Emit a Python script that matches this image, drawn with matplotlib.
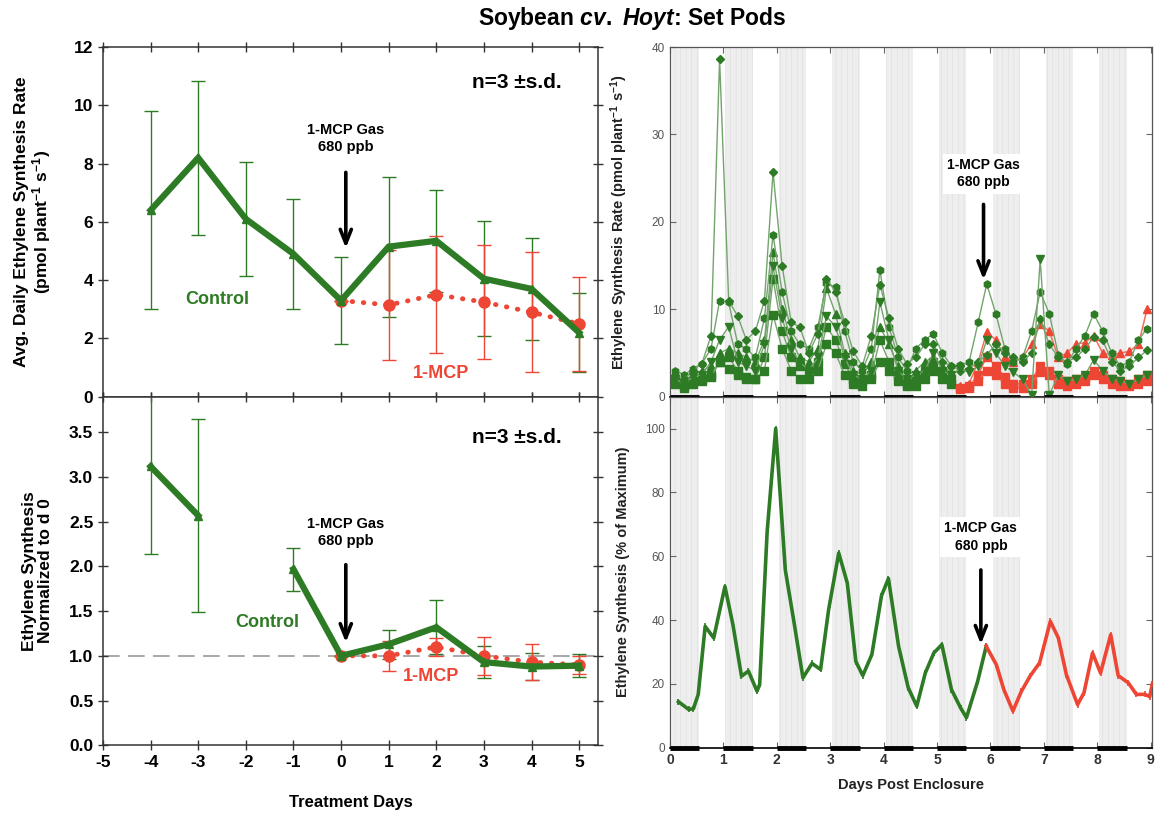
import numpy as np
import matplotlib.pyplot as plt

plt.rcParams['font.family'] = ['Liberation Sans', 'DejaVu Sans']
plt.rcParams['mathtext.fontset'] = 'custom'
plt.rcParams['mathtext.rm'] = 'Liberation Sans:bold'
plt.rcParams['mathtext.it'] = 'Liberation Sans:bold:italic'
plt.rcParams['axes.unicode_minus'] = False
plt.rcParams['hatch.linewidth'] = 0.4

GREEN = '#2e7b25'
GREEN_LINE = '#73a46c'
RED = '#ee4634'
RED_LINE = '#f2705f'

# daily averages, treatment days relative to 1-MCP application
treat_days = [-4, -3, -2, -1, 0, 1, 2, 3, 4, 5]
ctrl_rate = [6.4, 8.2, 6.1, 4.9, 3.3, 5.15, 5.35, 4.05, 3.7, 2.2]
ctrl_rate_sd = [3.4, 2.65, 1.95, 1.9, 1.5, 2.4, 1.75, 1.97, 1.75, 1.35]
mcp_days = [0, 1, 2, 3, 4, 5]
mcp_rate = [3.3, 3.15, 3.5, 3.25, 2.9, 2.5]
mcp_rate_sd = [0.0, 1.9, 2.0, 1.97, 2.05, 1.6]

ctrl_norm = [3.12, 2.57, np.nan, 1.97, 1.0, 1.13, 1.32, 0.93, 0.88, 0.89]
ctrl_norm_sd = [0.98, 1.08, 0.0, 0.24, 0.0, 0.16, 0.30, 0.18, 0.15, 0.13]
mcp_norm = [1.0, 1.0, 1.1, 1.0, 0.93, 0.9]
mcp_norm_sd = [0.0, 0.17, 0.1, 0.21, 0.2, 0.1]

# continuous measurements, sampled every 4 h (days post enclosure)
sample_days = [0.10, 0.27, 0.43, 0.60, 0.77, 0.93, 1.10, 1.27, 1.43, 1.60,
               1.77, 1.93, 2.10, 2.27, 2.43, 2.60, 2.77, 2.93, 3.10, 3.27,
               3.43, 3.60, 3.77, 3.93, 4.10, 4.27, 4.43, 4.60, 4.77, 4.93,
               5.10, 5.27, 5.43, 5.60, 5.77, 5.93, 6.10, 6.27, 6.43, 6.60,
               6.77, 6.93, 7.10, 7.27, 7.43, 7.60, 7.77, 7.93, 8.10, 8.27,
               8.43, 8.60, 8.77, 8.93]
plant1 = [3.0, 2.5, 3.2, 3.8, 5.5, 11.0, 10.8, 6.0, 5.5, 4.5,
          9.0, 18.5, 12.0, 7.5, 6.0, 5.5, 8.0, 13.0, 12.5, 7.5,
          4.0, 3.0, 5.5, 14.5, 8.0, 4.5, 3.0, 5.5, 6.5, 7.2,
          5.0, 3.5, 3.6, 4.0, 8.5, 12.9, 9.5, 5.5, 4.0, 4.5,
          7.5, 12.0, 9.5, 4.8, 3.8, 5.5, 7.0, 9.5, 7.5, 5.0,
          3.5, 4.0, 6.5, 7.8]
plant2 = [2.5, 2.0, 3.0, 3.8, 7.0, 38.6, 11.0, 9.2, 6.5, 7.5,
          11.0, 25.7, 15.0, 8.5, 8.0, 5.0, 7.2, 13.5, 12.0, 8.5,
          5.2, 3.5, 7.0, 12.8, 9.0, 5.5, 3.8, 4.5, 6.0, 6.0,
          4.0, 3.5, 3.0, 3.2, 4.0, 4.8, 6.0, 5.0, 4.5, 4.0,
          5.0, 8.9, 6.0, 4.5, 4.0, 4.5, 5.5, 6.8, 6.5, 4.0,
          3.0, 3.5, 4.5, 5.3]
plant3 = [2.0, 1.5, 2.3, 2.5, 4.0, 6.5, 8.0, 4.0, 3.5, 3.0,
          6.0, 14.9, 9.0, 5.5, 4.0, 3.0, 4.5, 9.2, 8.0, 4.5,
          2.5, 2.0, 3.0, 10.8, 6.5, 3.0, 2.0, 2.5, 3.0, 5.0,
          3.0, 2.5, 3.2, 2.8, 3.5, 6.5, 5.0, 3.5, 2.8, 2.0,
          0.2, 15.7, 0.2, 2.5, 1.8, 2.0, 2.5, 4.2, 3.0, 2.0,
          1.8, 1.5, 2.0, 2.5]
plant4 = [2.2, 1.8, 2.5, 3.0, 3.5, 5.0, 5.5, 5.0, 4.5, 4.0,
          6.5, 16.5, 10.0, 6.5, 4.5, 4.0, 5.5, 12.4, 9.5, 5.0,
          3.0, 2.5, 4.0, 8.0, 6.0, 3.5, 2.5, 3.0, 4.0, 4.5,
          3.5, 2.8, 1.2, 1.5, 4.0, 7.4, 6.5, 4.5, 4.0, 4.5,
          6.0, 8.3, 7.5, 4.5, 5.0, 6.0, 6.2, 7.0, 5.0, 4.8,
          5.0, 5.2, 6.0, 10.0]
plant5 = [1.5, 1.2, 1.8, 2.0, 2.5, 4.0, 4.5, 3.0, 2.2, 2.0,
          4.5, 13.5, 7.5, 4.5, 3.5, 3.0, 4.0, 8.0, 6.5, 3.8,
          2.0, 1.8, 2.5, 6.5, 4.0, 2.5, 1.5, 2.0, 3.0, 4.0,
          2.8, 2.0, 1.0, 1.2, 2.5, 4.6, 3.5, 2.2, 1.5, 1.5,
          2.0, 3.5, 3.0, 2.0, 1.8, 2.0, 2.2, 3.0, 2.5, 2.0,
          1.8, 1.5, 2.0, 2.5]
plant6 = [1.8, 1.0, 1.5, 1.8, 2.2, 4.0, 3.2, 2.5, 2.0, 2.0,
          3.0, 9.4, 5.5, 3.0, 2.0, 2.0, 3.0, 6.0, 5.0, 2.5,
          1.5, 1.2, 2.0, 4.0, 3.0, 1.8, 1.2, 1.2, 2.0, 3.0,
          2.0, 1.5, 0.9, 1.0, 1.8, 3.0, 2.5, 1.5, 1.0, 1.0,
          1.5, 2.8, 2.5, 1.5, 1.2, 1.5, 1.8, 2.5, 2.0, 1.5,
          1.2, 1.2, 1.5, 1.8]
first_treated = 32  # index of first sample after 1-MCP application

# mean response as % of maximum
pct_days_ctrl = [0.16, 0.35, 0.44, 0.53, 0.66, 0.82, 1.03, 1.18, 1.34, 1.47,
                 1.63, 1.68, 1.82, 1.98, 2.16, 2.32, 2.49, 2.66, 2.82, 2.97,
                 3.16, 3.32, 3.48, 3.61, 3.78, 3.96, 4.09, 4.28, 4.46, 4.62,
                 4.78, 4.94, 5.09, 5.27, 5.44, 5.55, 5.76, 5.92]
pct_ctrl = [14.4, 12.0, 12.2, 16.7, 38.0, 34.4, 50.5, 38.5, 22.4, 24.0,
            17.7, 19.8, 67.7, 100.0, 55.7, 39.6, 21.9, 26.4, 24.5, 43.2,
            61.0, 51.6, 27.0, 22.6, 29.2, 47.6, 53.0, 31.8, 18.8, 13.0,
            23.4, 29.7, 32.3, 18.2, 12.5, 9.4, 20.8, 31.8]
pct_days_mcp = [5.92, 6.11, 6.25, 6.42, 6.58, 6.74, 6.92, 7.12, 7.27, 7.42,
                7.63, 7.75, 7.91, 8.06, 8.25, 8.39, 8.58, 8.73, 8.89, 8.98, 9.03]
pct_mcp = [31.8, 26.0, 18.2, 11.5, 17.7, 22.4, 26.6, 39.6, 34.4, 22.9,
           13.5, 17.2, 29.7, 23.4, 35.4, 22.6, 20.3, 16.7, 16.7, 16.0, 20.0]

night_starts = [0, 1, 2, 3, 4, 5, 6, 7, 8]

fig = plt.figure(figsize=(11.57, 8.18), dpi=100)
ax1 = fig.add_axes([0.089, 0.515, 0.428, 0.4275])
ax2 = fig.add_axes([0.089, 0.089, 0.428, 0.426])
ax3 = fig.add_axes([0.579, 0.515, 0.417, 0.4275])
ax4 = fig.add_axes([0.579, 0.086, 0.417, 0.429])

fig.text(0.546, 0.977, r'Soybean $cv.\ Hoyt$: Set Pods', ha='center', va='center',
         fontsize=16.5, fontweight='bold')


def style_left(ax):
    ax.set_xlim(-5, 5.4)
    ax.set_xticks(range(-5, 6))
    for s in ax.spines.values():
        s.set_linewidth(1.1)
        s.set_color('#333333')
    ax.tick_params(axis='both', which='both', direction='inout', length=7, width=1,
                   top=True, right=True, labelsize=12.5, color='#333333')
    for lab in ax.get_xticklabels() + ax.get_yticklabels():
        lab.set_fontweight('bold')


def arrow_note(ax, x, y_text, y_from, y_to, size=10.5, box=False):
    kw = dict(ha='center', va='center', fontsize=size, fontweight='bold', zorder=6)
    if box:
        kw['bbox'] = dict(facecolor='white', edgecolor='none', pad=3)
    ax.text(x, y_text, '1-MCP Gas\n680 ppb', linespacing=1.3, **kw)
    ax.annotate('', xy=(x, y_to), xytext=(x, y_from), zorder=6,
                arrowprops=dict(arrowstyle='->,head_length=1.0,head_width=0.4',
                                lw=2.6, color='black', shrinkA=0, shrinkB=0))


# --- top left: daily average rate ---
ax1.errorbar(treat_days, ctrl_rate, yerr=ctrl_rate_sd, fmt='none', ecolor=GREEN,
             elinewidth=1, capsize=5, capthick=1, zorder=2)
ax1.errorbar(mcp_days, mcp_rate, yerr=mcp_rate_sd, fmt='none', ecolor=RED,
             elinewidth=1, capsize=5, capthick=1, zorder=2)
ax1.plot(mcp_days, mcp_rate, color=RED, lw=3.5, linestyle=(0, (0.1, 2.2)),
         dash_capstyle='round', marker='o', ms=8, zorder=3)
ax1.plot(treat_days, ctrl_rate, color=GREEN, lw=4.5, marker='^', ms=6,
         solid_joinstyle='miter', zorder=4)
ax1.set_ylim(0, 12)
ax1.set_yticks(range(0, 13, 2))
style_left(ax1)
ax1.tick_params(labelbottom=False)
ax1.set_ylabel('Avg. Daily Ethylene Synthesis Rate\n(pmol plant$^{-1}$ s$^{-1}$)',
               fontsize=12.5, fontweight='bold', linespacing=1.1)
ax1.yaxis.set_label_coords(-0.1, 0.5)
ax1.text(3.7, 10.8, 'n=3 ±s.d.', ha='center', va='center', fontsize=15, fontweight='bold')
ax1.text(-2.6, 3.35, 'Control', color=GREEN, ha='center', va='center',
         fontsize=13, fontweight='bold')
ax1.text(2.1, 0.8, '1-MCP', color=RED, ha='center', va='center',
         fontsize=13, fontweight='bold')
arrow_note(ax1, 0.1, 8.85, 7.7, 5.1)

# --- bottom left: normalised to day 0 ---
ax2.axhline(1.0, color='#999999', lw=1.2, dashes=(10, 5), zorder=1)
ax2.errorbar(treat_days, ctrl_norm, yerr=ctrl_norm_sd, fmt='none', ecolor=GREEN,
             elinewidth=1, capsize=5, capthick=1, zorder=2)
ax2.errorbar(mcp_days, mcp_norm, yerr=mcp_norm_sd, fmt='none', ecolor=RED,
             elinewidth=1, capsize=5, capthick=1, zorder=2)
ax2.plot(mcp_days, mcp_norm, color=RED, lw=3.5, linestyle=(0, (0.1, 2.2)),
         dash_capstyle='round', marker='o', ms=8, zorder=3)
ax2.plot(treat_days, ctrl_norm, color=GREEN, lw=4.5, marker='^', ms=6, zorder=4)
ax2.set_ylim(0, 3.9)
ax2.set_yticks(np.arange(0, 3.6, 0.5))
ax2.set_yticklabels([f'{v:.1f}' for v in np.arange(0, 3.6, 0.5)])
style_left(ax2)
ax2.set_ylabel('Ethylene Synthesis\nNormalized to d 0', fontsize=12.5,
               fontweight='bold', linespacing=1.1)
ax2.yaxis.set_label_coords(-0.1, 0.5)
ax2.set_xlabel('Treatment Days', fontsize=12, fontweight='bold', labelpad=18)
ax2.text(3.7, 3.44, 'n=3 ±s.d.', ha='center', va='center', fontsize=15, fontweight='bold')
ax2.text(-1.55, 1.37, 'Control', color=GREEN, ha='center', va='center',
         fontsize=13, fontweight='bold')
ax2.text(1.9, 0.77, '1-MCP', color=RED, ha='center', va='center',
         fontsize=13, fontweight='bold')
arrow_note(ax2, 0.1, 2.38, 2.02, 1.15)


def style_right(ax, ymax, yticks):
    ax.set_xlim(0, 9.03)
    ax.set_ylim(0, ymax)
    ax.set_xticks(range(0, 10))
    ax.set_yticks(yticks)
    for s in ax.spines.values():
        s.set_linewidth(0.9)
        s.set_color('#555555')
    ax.spines['bottom'].set_color('black')
    ax.spines['bottom'].set_linewidth(1.2)
    ax.tick_params(axis='both', direction='in', length=4, width=0.8, top=True,
                   right=True, labelsize=8.5, labelcolor='#555555', color='#666666')
    for d in night_starts:
        ax.axvspan(d + 0.04, d + 0.55, facecolor='#eeeeee', edgecolor='#dddddd',
                   hatch='|||', lw=0, zorder=0)
        ax.plot([d, d + 0.55], [0, 0], color='black', lw=3.5, solid_capstyle='butt',
                clip_on=False, zorder=7)


# --- top right: individual plants ---
style_right(ax3, 40, range(0, 41, 10))
plants = [plant1, plant2, plant3, plant4, plant5, plant6]
shapes = ['h', 'D', 'v', '^', 's', 's']
treated = [False, False, False, True, True, True]
for vals, mk, trt in zip(plants, shapes, treated):
    ms = 4.5 if mk == 'D' else 5.2
    if trt:
        ax3.plot(sample_days[:first_treated], vals[:first_treated], color=GREEN_LINE,
                 lw=1, marker=mk, ms=ms, mfc=GREEN, mec=GREEN, zorder=3)
        ax3.plot(sample_days[first_treated:], vals[first_treated:], color=RED_LINE,
                 lw=1.1, marker=mk, ms=ms, mfc=RED, mec=RED, zorder=3)
    else:
        ax3.plot(sample_days, vals, color=GREEN_LINE, lw=1, marker=mk, ms=ms,
                 mfc=GREEN, mec=GREEN, zorder=4)
ax3.tick_params(labelbottom=False)
ax3.set_ylabel('Ethylene Synthesis Rate (pmol plant$^{-1}$ s$^{-1}$)', fontsize=10.5,
               fontweight='bold', color='#222222')
ax3.yaxis.set_label_coords(-0.083, 0.5)
arrow_note(ax3, 5.87, 25.5, 22.0, 13.4, size=10, box=True)

# --- bottom right: percent of maximum ---
style_right(ax4, 110, range(0, 101, 20))
ax4.plot(pct_days_ctrl, pct_ctrl, color=GREEN, lw=2.6, marker='|', ms=5, mew=1.2,
         solid_joinstyle='round', zorder=3)
ax4.plot(pct_days_mcp, pct_mcp, color=RED, lw=2.6, marker='|', ms=5, mew=1.2,
         solid_joinstyle='round', zorder=3)
ax4.set_ylabel('Ethylene Synthesis (% of Maximum)', fontsize=10.5, fontweight='bold',
               color='#222222')
ax4.yaxis.set_label_coords(-0.083, 0.5)
ax4.set_xlabel('Days Post Enclosure', fontsize=10.5, fontweight='bold',
               color='#222222', labelpad=8)
for lab in ax4.get_xticklabels():
    lab.set_fontweight('bold')
ax4.tick_params(axis='x', labelsize=10, labelcolor='#333333')
arrow_note(ax4, 5.82, 66, 55.7, 32.4, size=10, box=True)

fig.savefig('out.png', dpi=100)
